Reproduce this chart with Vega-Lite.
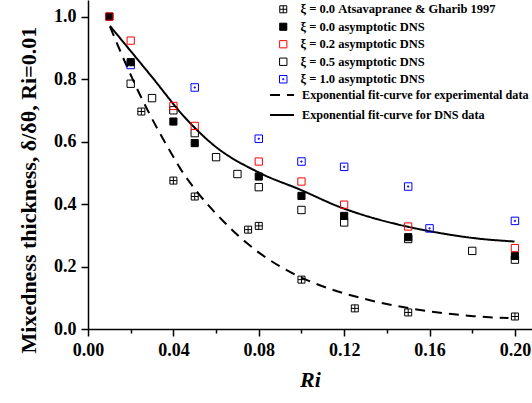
{
  "$schema": "https://vega.github.io/schema/vega-lite/v6.json",
  "width": 444,
  "height": 329,
  "autosize": {"type": "none"},
  "padding": {"left": 88, "top": 0, "right": 0, "bottom": 74},
  "background": "white",
  "config": {
    "view": {"stroke": null},
    "font": "Liberation Serif",
    "axis": {
      "domainColor": "black", "domainWidth": 1.5, "tickColor": "black", "tickWidth": 1.5,
      "labelColor": "black", "labelFont": "Liberation Serif", "labelFontSize": 18, "labelFontWeight": "bold",
      "titleColor": "black", "titleFont": "Liberation Serif", "titleFontWeight": "bold", "grid": false
    },
    "legend": {
      "labelFont": "Liberation Serif", "labelFontSize": 12.5, "labelFontWeight": "bold", "labelColor": "black",
      "labelLimit": 0, "padding": 0
    }
  },
  "datasets": {
    "points": [
      {"series": "a", "Ri": 0.025, "value": 0.696},
      {"series": "a", "Ri": 0.04, "value": 0.475},
      {"series": "a", "Ri": 0.05, "value": 0.424},
      {"series": "a", "Ri": 0.075, "value": 0.318},
      {"series": "a", "Ri": 0.08, "value": 0.330},
      {"series": "a", "Ri": 0.1, "value": 0.158},
      {"series": "a", "Ri": 0.125, "value": 0.066},
      {"series": "a", "Ri": 0.15, "value": 0.053},
      {"series": "a", "Ri": 0.2, "value": 0.040},
      {"series": "d", "Ri": 0.02, "value": 0.785},
      {"series": "d", "Ri": 0.03, "value": 0.739},
      {"series": "d", "Ri": 0.04, "value": 0.700},
      {"series": "d", "Ri": 0.05, "value": 0.627},
      {"series": "d", "Ri": 0.06, "value": 0.550},
      {"series": "d", "Ri": 0.07, "value": 0.496},
      {"series": "d", "Ri": 0.08, "value": 0.454},
      {"series": "d", "Ri": 0.1, "value": 0.381},
      {"series": "d", "Ri": 0.12, "value": 0.341},
      {"series": "d", "Ri": 0.15, "value": 0.288},
      {"series": "d", "Ri": 0.18, "value": 0.250},
      {"series": "d", "Ri": 0.2, "value": 0.222},
      {"series": "e", "Ri": 0.02, "value": 0.845},
      {"series": "e", "Ri": 0.05, "value": 0.773},
      {"series": "e", "Ri": 0.08, "value": 0.609},
      {"series": "e", "Ri": 0.1, "value": 0.536},
      {"series": "e", "Ri": 0.12, "value": 0.519},
      {"series": "e", "Ri": 0.15, "value": 0.456},
      {"series": "e", "Ri": 0.16, "value": 0.322},
      {"series": "e", "Ri": 0.2, "value": 0.346},
      {"series": "b", "Ri": 0.01, "value": 1.0},
      {"series": "b", "Ri": 0.02, "value": 0.854},
      {"series": "b", "Ri": 0.04, "value": 0.664},
      {"series": "b", "Ri": 0.05, "value": 0.595},
      {"series": "b", "Ri": 0.08, "value": 0.488},
      {"series": "b", "Ri": 0.1, "value": 0.426},
      {"series": "b", "Ri": 0.12, "value": 0.362},
      {"series": "b", "Ri": 0.15, "value": 0.294},
      {"series": "b", "Ri": 0.2, "value": 0.234},
      {"series": "c", "Ri": 0.01, "value": 1.0},
      {"series": "c", "Ri": 0.02, "value": 0.923},
      {"series": "c", "Ri": 0.04, "value": 0.714},
      {"series": "c", "Ri": 0.05, "value": 0.650},
      {"series": "c", "Ri": 0.08, "value": 0.536},
      {"series": "c", "Ri": 0.1, "value": 0.472},
      {"series": "c", "Ri": 0.12, "value": 0.398},
      {"series": "c", "Ri": 0.15, "value": 0.328},
      {"series": "c", "Ri": 0.2, "value": 0.259}
    ],
    "curves": [
      {"fit": "Exponential fit-curve for experimental data", "Ri": 0.0103, "value": 0.968},
      {"fit": "Exponential fit-curve for experimental data", "Ri": 0.0189, "value": 0.83},
      {"fit": "Exponential fit-curve for experimental data", "Ri": 0.0236, "value": 0.76},
      {"fit": "Exponential fit-curve for experimental data", "Ri": 0.0314, "value": 0.655},
      {"fit": "Exponential fit-curve for experimental data", "Ri": 0.0392, "value": 0.56},
      {"fit": "Exponential fit-curve for experimental data", "Ri": 0.0431, "value": 0.515},
      {"fit": "Exponential fit-curve for experimental data", "Ri": 0.051, "value": 0.44},
      {"fit": "Exponential fit-curve for experimental data", "Ri": 0.0634, "value": 0.345},
      {"fit": "Exponential fit-curve for experimental data", "Ri": 0.0744, "value": 0.275},
      {"fit": "Exponential fit-curve for experimental data", "Ri": 0.09, "value": 0.2},
      {"fit": "Exponential fit-curve for experimental data", "Ri": 0.1056, "value": 0.148},
      {"fit": "Exponential fit-curve for experimental data", "Ri": 0.1275, "value": 0.1},
      {"fit": "Exponential fit-curve for experimental data", "Ri": 0.1494, "value": 0.068},
      {"fit": "Exponential fit-curve for experimental data", "Ri": 0.165, "value": 0.052},
      {"fit": "Exponential fit-curve for experimental data", "Ri": 0.1806, "value": 0.041},
      {"fit": "Exponential fit-curve for experimental data", "Ri": 0.197, "value": 0.035},
      {"fit": "Exponential fit-curve for DNS data", "Ri": 0.0103, "value": 0.970},
      {"fit": "Exponential fit-curve for DNS data", "Ri": 0.0298, "value": 0.808},
      {"fit": "Exponential fit-curve for DNS data", "Ri": 0.0454, "value": 0.677},
      {"fit": "Exponential fit-curve for DNS data", "Ri": 0.0586, "value": 0.590},
      {"fit": "Exponential fit-curve for DNS data", "Ri": 0.0806, "value": 0.499},
      {"fit": "Exponential fit-curve for DNS data", "Ri": 0.0994, "value": 0.446},
      {"fit": "Exponential fit-curve for DNS data", "Ri": 0.1181, "value": 0.390},
      {"fit": "Exponential fit-curve for DNS data", "Ri": 0.1337, "value": 0.355},
      {"fit": "Exponential fit-curve for DNS data", "Ri": 0.1494, "value": 0.328},
      {"fit": "Exponential fit-curve for DNS data", "Ri": 0.165, "value": 0.307},
      {"fit": "Exponential fit-curve for DNS data", "Ri": 0.1806, "value": 0.291},
      {"fit": "Exponential fit-curve for DNS data", "Ri": 0.1998, "value": 0.280}
    ]
  },
  "layer": [
    {
      "data": {"name": "curves"},
      "mark": {"type": "line", "interpolate": "monotone", "strokeWidth": 2, "color": "black"},
      "encoding": {
        "x": {
          "field": "Ri", "type": "quantitative",
          "scale": {"domain": [0, 0.208], "nice": false, "zero": false},
          "axis": {
            "values": [0, 0.02, 0.04, 0.06, 0.08, 0.1, 0.12, 0.14, 0.16, 0.18, 0.2],
            "labelExpr": "round(datum.value*100) % 4 == 0 ? format(datum.value, '.2f') : ''",
            "tickSize": {"condition": {"test": "round(datum.value*100) % 4 != 0", "value": 4}, "value": 7},
            "labelPadding": 5,
            "labelFlush": false,
            "title": "Ri", "titleFontSize": 22, "titleFontStyle": "italic", "titlePadding": 10
          }
        },
        "y": {
          "field": "value", "type": "quantitative",
          "scale": {"domain": [0, 1.053], "nice": false},
          "axis": {
            "values": [0, 0.1, 0.2, 0.3, 0.4, 0.5, 0.6, 0.7, 0.8, 0.9, 1.0],
            "labelExpr": "round(datum.value*10) % 2 == 0 ? format(datum.value, '.1f') : ''",
            "tickSize": {"condition": {"test": "round(datum.value*10) % 2 != 0", "value": 4}, "value": 7},
            "labelPadding": 5,
            "labelFlush": false,
            "title": "Mixedness thickness, δ/δθ, Ri=0.01",
            "titleFontSize": 22,
            "titleX": -60, "titleY": 353, "titleAlign": "left", "titleBaseline": "middle", "titleAngle": -90
          }
        },
        "strokeDash": {
          "field": "fit", "type": "nominal",
          "scale": {
            "domain": ["Exponential fit-curve for experimental data", "Exponential fit-curve for DNS data"],
            "range": [[10, 7], [1, 0]]
          },
          "legend": {
            "title": null, "orient": "none", "legendX": 181, "legendY": 82,
            "symbolType": "stroke", "symbolSize": 576, "symbolStrokeWidth": 2, "symbolStrokeColor": "black",
            "labelOffset": 7, "rowPadding": -7, "labelFontSize": 12.2
          }
        }
      }
    },
    {
      "data": {"name": "points"},
      "mark": {"type": "point", "strokeWidth": 1, "opacity": 1},
      "encoding": {
        "x": {"field": "Ri", "type": "quantitative"},
        "y": {"field": "value", "type": "quantitative"},
        "shape": {
          "field": "series", "type": "nominal",
          "scale": {
            "domain": ["a", "b", "c", "d", "e"],
            "range": ["M-1,-1H1V1H-1Z M0,-1V1 M-1,0H1", "square", "square", "square", "M-1,-1H1V1H-1Z M-0.15,-0.15H0.15V0.15H-0.15Z"]
          },
          "legend": {
            "title": null, "orient": "none", "legendX": 189, "legendY": 3,
            "labelExpr": "{'a': 'ξ = 0.0 Atsavapranee & Gharib 1997', 'b': 'ξ = 0.0 asymptotic DNS', 'c': 'ξ = 0.2 asymptotic DNS', 'd': 'ξ = 0.5 asymptotic DNS', 'e': 'ξ = 1.0 asymptotic DNS'}[datum.label]",
            "labelOffset": 11, "rowPadding": 4.5, "symbolStrokeWidth": 1
          }
        },
        "stroke": {
          "field": "series", "type": "nominal",
          "scale": {"domain": ["a", "b", "c", "d", "e"], "range": ["black", "black", "#ff0000", "black", "#0000ff"]},
          "legend": {
            "title": null, "orient": "none", "legendX": 189, "legendY": 3,
            "labelExpr": "{'a': 'ξ = 0.0 Atsavapranee & Gharib 1997', 'b': 'ξ = 0.0 asymptotic DNS', 'c': 'ξ = 0.2 asymptotic DNS', 'd': 'ξ = 0.5 asymptotic DNS', 'e': 'ξ = 1.0 asymptotic DNS'}[datum.label]",
            "labelOffset": 11, "rowPadding": 4.5, "symbolStrokeWidth": 1
          }
        },
        "fill": {
          "field": "series", "type": "nominal",
          "scale": {"domain": ["a", "b", "c", "d", "e"], "range": ["transparent", "black", "transparent", "transparent", "transparent"]},
          "legend": {
            "title": null, "orient": "none", "legendX": 189, "legendY": 3,
            "labelExpr": "{'a': 'ξ = 0.0 Atsavapranee & Gharib 1997', 'b': 'ξ = 0.0 asymptotic DNS', 'c': 'ξ = 0.2 asymptotic DNS', 'd': 'ξ = 0.5 asymptotic DNS', 'e': 'ξ = 1.0 asymptotic DNS'}[datum.label]",
            "labelOffset": 11, "rowPadding": 4.5, "symbolStrokeWidth": 1
          }
        },
        "size": {
          "field": "series", "type": "nominal",
          "scale": {"domain": ["a", "b", "c", "d", "e"], "range": [49, 56, 144, 56, 49]},
          "legend": {
            "title": null, "orient": "none", "legendX": 189, "legendY": 3,
            "labelExpr": "{'a': 'ξ = 0.0 Atsavapranee & Gharib 1997', 'b': 'ξ = 0.0 asymptotic DNS', 'c': 'ξ = 0.2 asymptotic DNS', 'd': 'ξ = 0.5 asymptotic DNS', 'e': 'ξ = 1.0 asymptotic DNS'}[datum.label]",
            "labelOffset": 11, "rowPadding": 4.5, "symbolStrokeWidth": 1
          }
        }
      }
    }
  ]
}
